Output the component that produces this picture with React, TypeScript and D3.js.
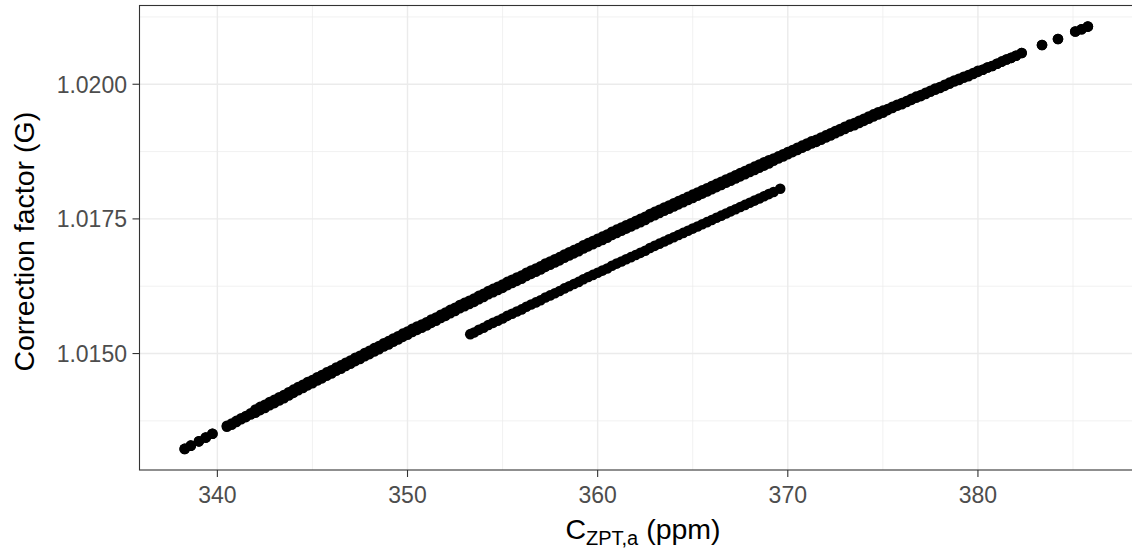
import React, { useEffect } from 'react';
import * as d3 from 'd3';

// main band read at half-ppm steps: upper and lower edge of the scatter
const mainPpm = [
  338.28, 338.6, 339.03, 339.39, 339.74,
  340.5, 341, 341.5, 342, 342.5, 343, 343.5, 344, 344.5, 345, 345.5, 346, 346.5, 347, 347.5,
  348, 348.5, 349, 349.5, 350, 350.5, 351, 351.5, 352, 352.5, 353, 353.5, 354, 354.5, 355,
  355.5, 356, 356.5, 357, 357.5, 358, 358.5, 359, 359.5, 360, 360.5, 361, 361.5, 362, 362.5,
  363, 363.5, 364, 364.5, 365, 365.5, 366, 366.5, 367, 367.5, 368, 368.5, 369, 369.5, 370,
  370.5, 371, 371.5, 372, 372.5, 373, 373.5, 374, 374.5, 375, 375.5, 376, 376.5, 377, 377.5,
  378, 378.5, 379, 379.5, 380, 380.5, 381, 381.5, 382,
  382.3, 383.37, 384.21, 385.12, 385.45, 385.78,
];
const mainUpper = [
  1.01323, 1.01329, 1.01337, 1.01344, 1.01351,
  1.01366, 1.01375, 1.01384, 1.01396, 1.01405, 1.01414, 1.01423, 1.01433, 1.01442, 1.01451,
  1.0146, 1.01469, 1.01478, 1.01487, 1.01496, 1.01505, 1.01514, 1.01523, 1.01532, 1.01541,
  1.0155, 1.01558, 1.01567, 1.01576, 1.01585, 1.01594, 1.01602, 1.01611, 1.0162, 1.01628,
  1.01637, 1.01645, 1.01654, 1.01662, 1.01671, 1.01679, 1.01688, 1.01696, 1.01705, 1.01713,
  1.01721, 1.0173, 1.01738, 1.01746, 1.01754, 1.01763, 1.01771, 1.01779, 1.01787, 1.01795,
  1.01803, 1.01811, 1.01819, 1.01827, 1.01835, 1.01843, 1.01851, 1.01859, 1.01866, 1.01874,
  1.01882, 1.0189, 1.01897, 1.01905, 1.01913, 1.01921, 1.01928, 1.01936, 1.01944, 1.01951,
  1.01958, 1.01965, 1.01973, 1.0198, 1.01988, 1.01995, 1.02003, 1.0201, 1.02017, 1.02025,
  1.02031, 1.02038, 1.02046, 1.02053,
  1.02058, 1.02073, 1.02084, 1.02098, 1.02102, 1.02107,
];
const mainLower = [
  1.01323, 1.01329, 1.01337, 1.01344, 1.01351,
  1.01364, 1.01373, 1.01382, 1.0139, 1.01399, 1.01408, 1.01417, 1.01427, 1.01436, 1.01445,
  1.01454, 1.01463, 1.01472, 1.01481, 1.0149, 1.01499, 1.01508, 1.01517, 1.01526, 1.01535,
  1.01544, 1.01552, 1.01561, 1.0157, 1.01579, 1.01588, 1.01596, 1.01605, 1.01614, 1.01622,
  1.01631, 1.01639, 1.01648, 1.01656, 1.01665, 1.01673, 1.01682, 1.0169, 1.01699, 1.01707,
  1.01715, 1.01724, 1.01732, 1.0174, 1.01748, 1.01757, 1.01765, 1.01773, 1.01781, 1.01789,
  1.01797, 1.01805, 1.01813, 1.01821, 1.01829, 1.01837, 1.01845, 1.01853, 1.01862, 1.0187,
  1.01878, 1.01886, 1.01893, 1.01901, 1.01909, 1.01917, 1.01924, 1.01932, 1.0194, 1.01947,
  1.01956, 1.01963, 1.01971, 1.01978, 1.01986, 1.01993, 1.02001, 1.02008, 1.02015, 1.02023,
  1.02031, 1.02038, 1.02046, 1.02053,
  1.02058, 1.02073, 1.02084, 1.02098, 1.02102, 1.02107,
];

// main band read at the quarter points in between
const mainPpm2 = [
  340.75, 341.25, 341.75, 342.25, 342.75, 343.25, 343.75, 344.25, 344.75, 345.25, 345.75,
  346.25, 346.75, 347.25, 347.75, 348.25, 348.75, 349.25, 349.75, 350.25, 350.75, 351.25,
  351.75, 352.25, 352.75, 353.25, 353.75, 354.25, 354.75, 355.25, 355.75, 356.25, 356.75,
  357.25, 357.75, 358.25, 358.75, 359.25, 359.75, 360.25, 360.75, 361.25, 361.75, 362.25,
  362.75, 363.25, 363.75, 364.25, 364.75, 365.25, 365.75, 366.25, 366.75, 367.25, 367.75,
  368.25, 368.75, 369.25, 369.75, 370.25, 370.75, 371.25, 371.75, 372.25, 372.75, 373.25,
  373.75, 374.25, 374.75, 375.25, 375.75, 376.25, 376.75, 377.25, 377.75, 378.25, 378.75,
  379.25, 379.75, 380.25, 380.75, 381.25, 381.75,
];
const mainUpper2 = [
  1.0137, 1.0138, 1.01389, 1.01401, 1.0141, 1.01419, 1.01428, 1.01438, 1.01447, 1.01456,
  1.01465, 1.01474, 1.01483, 1.01492, 1.01501, 1.0151, 1.01519, 1.01528, 1.01537, 1.01546,
  1.01554, 1.01563, 1.01572, 1.01581, 1.0159, 1.01598, 1.01607, 1.01616, 1.01624, 1.01633,
  1.01641, 1.0165, 1.01658, 1.01667, 1.01675, 1.01684, 1.01692, 1.01701, 1.01709, 1.01717,
  1.01726, 1.01734, 1.01742, 1.0175, 1.01759, 1.01767, 1.01775, 1.01783, 1.01791, 1.01799,
  1.01807, 1.01815, 1.01823, 1.01831, 1.01839, 1.01847, 1.01855, 1.01862, 1.0187, 1.01878,
  1.01886, 1.01894, 1.01901, 1.01909, 1.01917, 1.01925, 1.01932, 1.0194, 1.01948, 1.01954,
  1.01962, 1.01969, 1.01977, 1.01984, 1.01992, 1.01999, 1.02007, 1.02014, 1.02021, 1.02027,
  1.02034, 1.02042, 1.02049,
];
const mainLower2 = [
  1.01368, 1.01378, 1.01387, 1.01395, 1.01404, 1.01413, 1.01422, 1.01432, 1.01441, 1.0145,
  1.01459, 1.01468, 1.01477, 1.01486, 1.01495, 1.01504, 1.01513, 1.01522, 1.01531, 1.0154,
  1.01548, 1.01557, 1.01566, 1.01575, 1.01584, 1.01592, 1.01601, 1.0161, 1.01618, 1.01627,
  1.01635, 1.01644, 1.01652, 1.01661, 1.01669, 1.01678, 1.01686, 1.01695, 1.01703, 1.01711,
  1.0172, 1.01728, 1.01736, 1.01744, 1.01753, 1.01761, 1.01769, 1.01777, 1.01785, 1.01793,
  1.01801, 1.01809, 1.01817, 1.01825, 1.01833, 1.01841, 1.01849, 1.01858, 1.01866, 1.01874,
  1.01882, 1.0189, 1.01897, 1.01905, 1.01913, 1.01921, 1.01928, 1.01936, 1.01944, 1.01952,
  1.0196, 1.01967, 1.01975, 1.01982, 1.0199, 1.01997, 1.02005, 1.02012, 1.02019, 1.02027,
  1.02034, 1.02042, 1.02049,
];

// second (shorter) band
const secPpm = [
  353.3, 353.5, 353.75, 354, 354.25, 354.5, 354.75, 355, 355.25, 355.5, 355.75, 356, 356.25,
  356.5, 356.75, 357, 357.25, 357.5, 357.75, 358, 358.25, 358.5, 358.75, 359, 359.25, 359.5,
  359.75, 360, 360.25, 360.5, 360.75, 361, 361.25, 361.5, 361.75, 362, 362.25, 362.5, 362.75,
  363, 363.25, 363.5, 363.75, 364, 364.25, 364.5, 364.75, 365, 365.25, 365.5, 365.75, 366,
  366.25, 366.5, 366.75, 367, 367.25, 367.5, 367.75, 368, 368.25, 368.5, 368.75, 369, 369.25,
  369.6,
];
const secG = [
  1.01536, 1.01539, 1.01544, 1.01548, 1.01553, 1.01557, 1.01561, 1.01565, 1.0157, 1.01574,
  1.01578, 1.01582, 1.01587, 1.01591, 1.01595, 1.01599, 1.01604, 1.01608, 1.01612, 1.01616,
  1.01621, 1.01625, 1.01629, 1.01633, 1.01638, 1.01642, 1.01646, 1.0165, 1.01654, 1.01658,
  1.01663, 1.01667, 1.01671, 1.01675, 1.01679, 1.01683, 1.01687, 1.01691, 1.01696, 1.017,
  1.01704, 1.01708, 1.01712, 1.01716, 1.0172, 1.01724, 1.01728, 1.01732, 1.01736, 1.0174,
  1.01744, 1.01748, 1.01752, 1.01756, 1.0176, 1.01764, 1.01768, 1.01772, 1.01776, 1.0178,
  1.01784, 1.01788, 1.01792, 1.01796, 1.018, 1.01806,
];

const xTicks = [340, 350, 360, 370, 380];
const xMinor = [345, 355, 365, 375, 385];
const yTicks = [1.015, 1.0175, 1.02];
const yMinor = [1.01375, 1.01625, 1.01875, 1.02125];

const W = 1132;
const H = 552;
const margin = { left: 139.5, top: 5.5, right: 1133, bottom: 470 };
const FONT = '"Liberation Sans", Arial, Helvetica, sans-serif';

export default function App() {
  useEffect(() => {
    document.body.style.margin = '0';
  }, []);

  const allX = [...mainPpm, ...mainPpm2, ...secPpm];
  const allY = [...mainUpper, ...mainLower, ...mainUpper2, ...mainLower2, ...secG];
  const [x0, x1] = d3.extent(allX) as [number, number];
  const [y0, y1] = d3.extent(allY) as [number, number];
  const ex = (x1 - x0) * 0.05;
  const ey = (y1 - y0) * 0.05;

  const x = d3.scaleLinear().domain([x0 - ex, x1 + ex]).range([margin.left, margin.right]);
  const y = d3.scaleLinear().domain([y0 - ey, y1 + ey]).range([margin.bottom, margin.top]);

  const pts: [number, number][] = [];
  mainPpm.forEach((p, i) => {
    pts.push([p, mainUpper[i]]);
    pts.push([p, mainLower[i]]);
  });
  mainPpm2.forEach((p, i) => {
    pts.push([p, mainUpper2[i]]);
    pts.push([p, mainLower2[i]]);
  });
  secPpm.forEach((p, i) => pts.push([p, secG[i]]));

  const fmt = d3.format('.4f');
  const r = 5.3;

  return (
    <svg width={W} height={H} style={{ display: 'block' }} fontFamily={FONT}>
      <rect x={0} y={0} width={W} height={H} fill="#fff" />
      <g>
        {yMinor.map((t) => (
          <line key={'ym' + t} x1={margin.left} x2={margin.right} y1={y(t)} y2={y(t)} stroke="#EBEBEB" strokeWidth={0.7} />
        ))}
        {xMinor.map((t) => (
          <line key={'xm' + t} y1={margin.top} y2={margin.bottom} x1={x(t)} x2={x(t)} stroke="#EBEBEB" strokeWidth={0.7} />
        ))}
        {yTicks.map((t) => (
          <line key={'yg' + t} x1={margin.left} x2={margin.right} y1={y(t)} y2={y(t)} stroke="#EBEBEB" strokeWidth={1.4} />
        ))}
        {xTicks.map((t) => (
          <line key={'xg' + t} y1={margin.top} y2={margin.bottom} x1={x(t)} x2={x(t)} stroke="#EBEBEB" strokeWidth={1.4} />
        ))}
      </g>
      <g>
        {pts.map((d, i) => (
          <circle key={i} cx={x(d[0])} cy={y(d[1])} r={r} fill="#000" />
        ))}
      </g>
      <rect
        x={margin.left}
        y={margin.top}
        width={margin.right - margin.left}
        height={margin.bottom - margin.top}
        fill="none"
        stroke="#333333"
        strokeWidth={1.1}
      />
      <g>
        {xTicks.map((t) => (
          <g key={'xt' + t}>
            <line x1={x(t)} x2={x(t)} y1={margin.bottom} y2={margin.bottom + 7} stroke="#333333" strokeWidth={1.1} />
            <text x={x(t)} y={502.5} textAnchor="middle" fontSize={23} fill="#4D4D4D">
              {t}
            </text>
          </g>
        ))}
        {yTicks.map((t) => (
          <g key={'yt' + t}>
            <line x1={margin.left - 7} x2={margin.left} y1={y(t)} y2={y(t)} stroke="#333333" strokeWidth={1.1} />
            <text x={127} y={y(t)} dy="0.36em" textAnchor="end" fontSize={23} fill="#4D4D4D">
              {fmt(t)}
            </text>
          </g>
        ))}
      </g>
      <text x={643} y={539} textAnchor="middle" fontSize={28.5} fill="#000">
        C
        <tspan fontSize={20} dy={6}>ZPT,a</tspan>
        <tspan dy={-6}>{' (ppm)'}</tspan>
      </text>
      <text
        transform={`translate(33.5, ${(margin.top + margin.bottom) / 2 + 4}) rotate(-90)`}
        textAnchor="middle"
        fontSize={28.5}
        fill="#000"
      >
        Correction factor (G)
      </text>
    </svg>
  );
}
